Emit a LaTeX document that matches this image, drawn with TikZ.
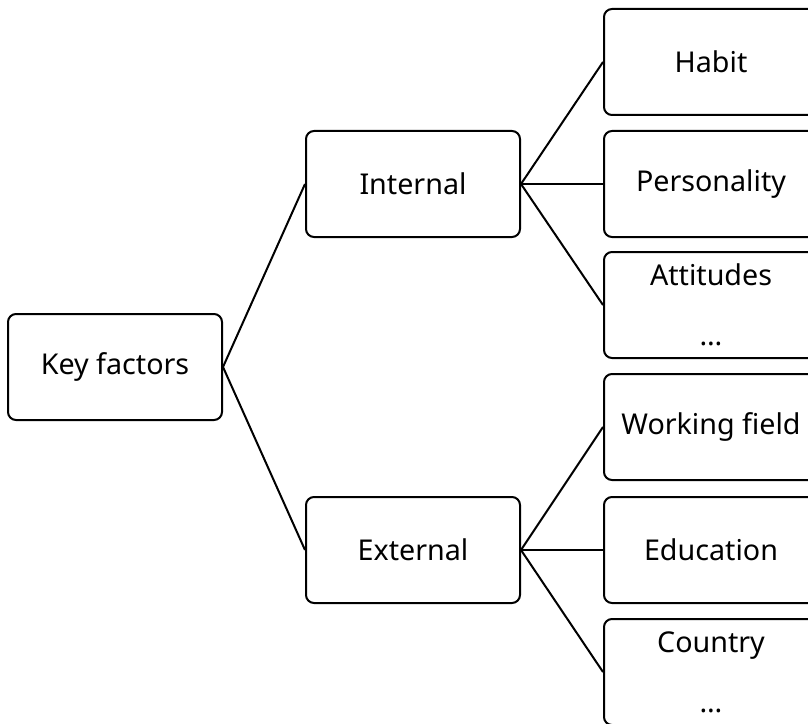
\documentclass[tikz,border=0pt]{standalone}
\usepackage{fontspec}
\setmainfont{Noto Sans}
\begin{document}
\begin{tikzpicture}[x=0.75pt, y=-0.75pt]
            \tikzstyle{factor} = [draw, line width=1.5pt, rounded corners=6pt, minimum width=160.5pt, minimum height=79.5pt, inner sep=0pt, align=center, font=\fontsize{21.5}{25}\selectfont]
            \tikzstyle{link} = [line width=1.5pt]
            \useasboundingbox (0, 0) rectangle (808, 724);
            \node[factor] (key) at (115, 367) {Key factors};
            \node[factor] (internal) at (413, 184) {Internal};
            \node[factor] (external) at (413, 550) {External};
            \node[factor] (habit) at (711, 62) {Habit};
            \node[factor] (personality) at (711, 184) {Personality};
            \node[factor] (attitudes) at (711, 305) {Attitudes\\[20pt]…};
            \node[factor] (working) at (711, 427) {Working field};
            \node[factor] (education) at (711, 550) {Education};
            \node[factor] (country) at (711, 672) {Country\\[20pt]…};
            \draw[link] (key.east) -- (internal.west);
            \draw[link] (key.east) -- (external.west);
            \draw[link] (internal.east) -- (habit.west);
            \draw[link] (internal.east) -- (personality.west);
            \draw[link] (internal.east) -- (attitudes.west);
            \draw[link] (external.east) -- (working.west);
            \draw[link] (external.east) -- (education.west);
            \draw[link] (external.east) -- (country.west);
\end{tikzpicture}
\end{document}
